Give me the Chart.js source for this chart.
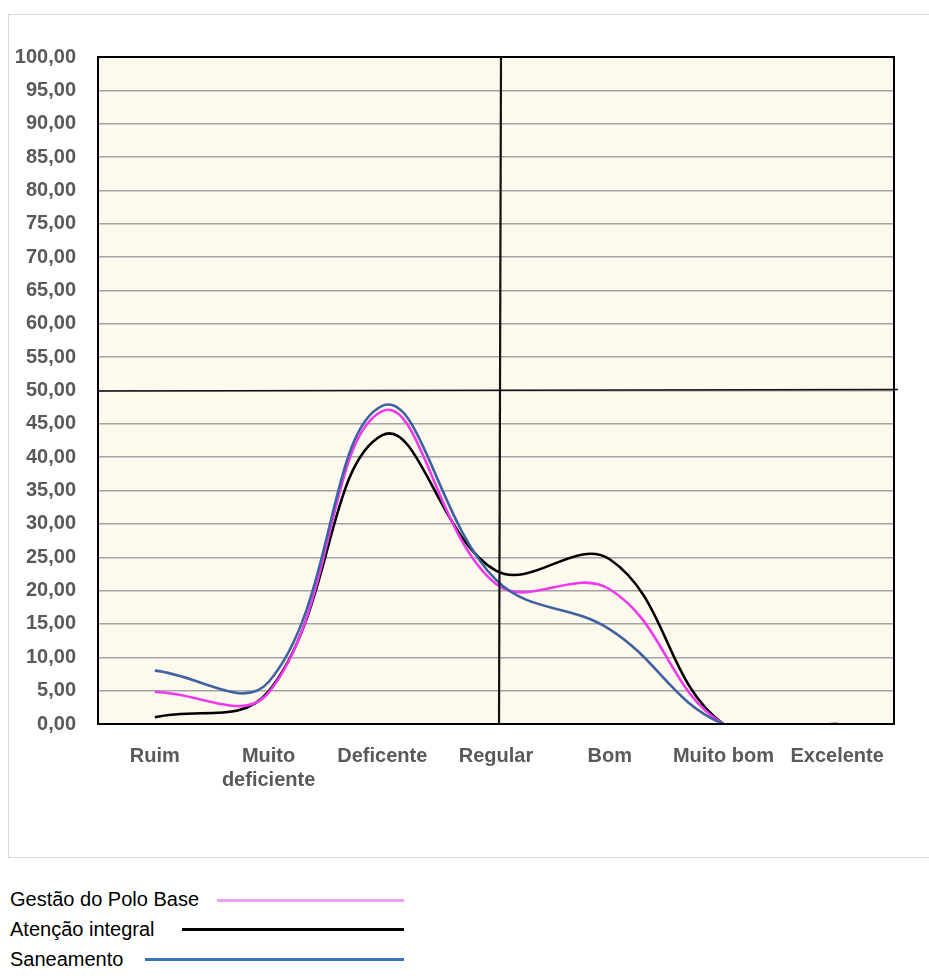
<!DOCTYPE html>
<html>
<head>
<meta charset="utf-8">
<script src="https://cdn.jsdelivr.net/npm/chart.js@4/dist/chart.umd.min.js"></script>
<style>
  html, body { margin:0; padding:0; background:#fff; width:929px; height:980px; overflow:hidden; }
  #frame { position:absolute; left:8px; top:14px; width:940px; height:844px; border:1px solid #d9d9d9; box-sizing:border-box; }
  #c { position:absolute; left:0; top:0; }
  .leg { position:absolute; left:10px; font-family:"Liberation Sans", Arial, sans-serif; font-size:20px; color:#000; white-space:nowrap; line-height:24px; }
  .ln { position:absolute; height:3px; }
</style>
</head>
<body>
<div id="frame"></div>
<canvas id="c" width="929" height="860"></canvas>
<div class="leg" style="top:887px;">Gestão do Polo Base</div>
<div class="ln" style="top:899px;left:217px;width:187px;background:#F0A2F0;"></div>
<div class="leg" style="top:917px;">Atenção integral</div>
<div class="ln" style="top:928px;left:182px;width:222px;background:#000;"></div>
<div class="leg" style="top:947px;">Saneamento</div>
<div class="ln" style="top:958px;left:145px;width:259px;background:#3A72BF;"></div>
<script>
const categories = ['Ruim', ['Muito', 'deficiente'], 'Deficente', 'Regular', 'Bom', 'Muito bom', 'Excelente'];
const gestaoPoloBase = [4.8, 4.7, 46.9, 21.0, 20.2, 0, 0];
const atencaoIntegral = [1.0, 4.9, 43.3, 23.0, 24.7, 0, 0];
const saneamento = [8.0, 6.3, 47.7, 21.6, 14.2, 0, 0];
const yTicksMin = 0, yTicksMax = 100, yTickStep = 5;
const refLineValue = 50;
const refCategoryIndex = 3;

const plotDeco = {
  id: 'plotDeco',
  beforeDraw(chart) {
    const a = chart.chartArea, ctx = chart.ctx;
    ctx.save();
    ctx.fillStyle = '#FDF9ED';
    ctx.fillRect(a.left, a.top, a.right - a.left, a.bottom - a.top);
    ctx.restore();
  },
  afterDatasetsDraw(chart) {
    const a = chart.chartArea, ctx = chart.ctx;
    const xs = chart.scales.x, ys = chart.scales.y;
    ctx.save();
    ctx.strokeStyle = '#000';
    ctx.lineWidth = 2;
    ctx.strokeRect(a.left, a.top, a.right - a.left, a.bottom - a.top);
    const y50 = ys.getPixelForValue(refLineValue);
    ctx.lineWidth = 1.6;
    ctx.strokeStyle = '#111';
    ctx.beginPath();
    ctx.moveTo(a.left, y50 + 0.5);
    ctx.lineTo(a.right + 4, y50 - 1);
    ctx.stroke();
    const xr = xs.getPixelForValue(refCategoryIndex);
    ctx.lineWidth = 2.2;
    ctx.beginPath();
    ctx.moveTo(xr + 5, a.top);
    ctx.lineTo(xr + 3, a.bottom);
    ctx.stroke();
    ctx.restore();
  }
};

const tickFont = { family: '"Liberation Sans", Arial, sans-serif', size: 20, weight: 'bold' };
const lineStyle = { borderWidth: 2.6, pointRadius: 0, tension: 0.4, fill: false, capBezierPoints: false };

new Chart(document.getElementById('c'), {
  type: 'line',
  data: {
    labels: categories,
    datasets: [
      Object.assign({ label: 'Saneamento', data: saneamento, borderColor: '#3F62A0' }, lineStyle),
      Object.assign({ label: 'Gestão do Polo Base', data: gestaoPoloBase, borderColor: '#EE3AEE' }, lineStyle),
      Object.assign({ label: 'Atenção integral', data: atencaoIntegral, borderColor: '#000000' }, lineStyle)
    ]
  },
  options: {
    responsive: false,
    devicePixelRatio: 1,
    animation: false,
    elements: { line: { capBezierPoints: false } },
    layout: { padding: { top: 57, right: 35, left: 0, bottom: 36 } },
    plugins: { legend: { display: false }, tooltip: { enabled: false } },
    scales: {
      x: {
        type: 'category',
        offset: true,
        grid: { display: false, drawTicks: false },
        border: { display: true, color: '#000', width: 2 },
        ticks: { font: tickFont, color: '#595959', padding: 20, maxRotation: 0, autoSkip: false },
        afterFit(s) { s.height = 100; }
      },
      y: {
        min: yTicksMin, max: yTicksMax,
        grid: { color: '#A3A3A3', lineWidth: 1.5, drawTicks: false },
        border: { display: true, color: '#000', width: 2 },
        ticks: {
          stepSize: yTickStep, font: tickFont, color: '#595959', padding: 22,
          callback: v => v.toFixed(2).replace('.', ',')
        },
        afterFit(s) { s.width = 98; }
      }
    }
  },
  plugins: [plotDeco]
});
</script>
</body>
</html>
